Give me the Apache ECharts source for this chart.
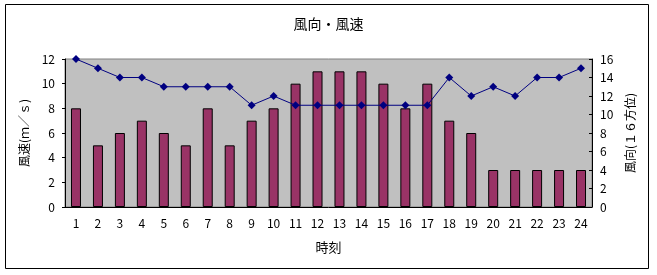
<!DOCTYPE html>
<html><head><meta charset="utf-8">
<script src="https://cdn.jsdelivr.net/npm/echarts@6/dist/echarts.min.js"></script>
<style>html,body{margin:0;padding:0;background:#fff}#c{width:657px;height:275px}</style>
</head><body><div id="c"></div>
<script>
const categories = ['1','2','3','4','5','6','7','8','9','10','11','12','13','14','15','16','17','18','19','20','21','22','23','24'];
const windSpeed = [8,5,6,7,6,5,8,5,7,8,10,11,11,11,10,8,10,7,6,3,3,3,3,3];
const windDir = [16,15,14,14,13,13,13,13,11,12,11,11,11,11,11,11,11,14,12,13,12,14,14,15];
const FONT = '"Noto Sans CJK JP", sans-serif';
const chart = echarts.init(document.getElementById('c'));
chart.setOption({
  animation: false,
  backgroundColor: '#fff',
  textStyle: {fontFamily: FONT},
  title: {text: '風向・風速', left: 'center', top: 12, textStyle: {fontSize: 14, fontWeight: 'normal', color: '#000', fontFamily: FONT}},
  graphic: [{type: 'rect', shape: {x: 5.5, y: 4.5, width: 643, height: 264}, style: {fill: 'none', stroke: '#000', lineWidth: 1}, silent: true, z: -1}],
  grid: {left: 65, right: 65, top: 59, bottom: 68, show: true, backgroundColor: '#c0c0c0', borderColor: '#808080', borderWidth: 1},
  xAxis: {
    type: 'category', data: categories, boundaryGap: true,
    name: '時刻', nameLocation: 'middle', nameGap: 34,
    nameTextStyle: {fontSize: 13, color: '#000', fontFamily: FONT},
    axisLine: {lineStyle: {color: '#000'}},
    axisTick: {inside: true, length: 3, lineStyle: {color: '#000'}},
    axisLabel: {color: '#000', fontSize: 12, margin: 10, interval: 0}
  },
  yAxis: [
    {type: 'value', min: 0, max: 12, interval: 2,
     name: '風速(ｍ／ｓ)', nameLocation: 'middle', nameGap: 30, nameRotate: 90,
     nameTextStyle: {fontSize: 12, color: '#000', fontFamily: FONT},
     axisLine: {show: true, lineStyle: {color: '#000'}},
     axisTick: {show: true, length: 3, lineStyle: {color: '#000'}},
     axisLabel: {color: '#000', fontSize: 12, margin: 10},
     splitLine: {show: false}},
    {type: 'value', min: 0, max: 16, interval: 2,
     name: '風向(１６方位)', nameLocation: 'middle', nameGap: 28, nameRotate: 90,
     nameTextStyle: {fontSize: 12, color: '#000', fontFamily: FONT},
     axisLine: {show: true, lineStyle: {color: '#000'}},
     axisTick: {show: true, inside: true, length: 3, lineStyle: {color: '#000'}},
     axisLabel: {color: '#000', fontSize: 12, margin: 8},
     splitLine: {show: false}}
  ],
  series: [
    {type: 'bar', data: windSpeed, yAxisIndex: 0, barWidth: 10,
     itemStyle: {color: '#993366', borderColor: '#000', borderWidth: 1}},
    {type: 'line', data: windDir, yAxisIndex: 1, symbol: 'diamond', symbolSize: 8,
     lineStyle: {color: '#000080', width: 1}, itemStyle: {color: '#000080'}}
  ]
});
</script></body></html>
